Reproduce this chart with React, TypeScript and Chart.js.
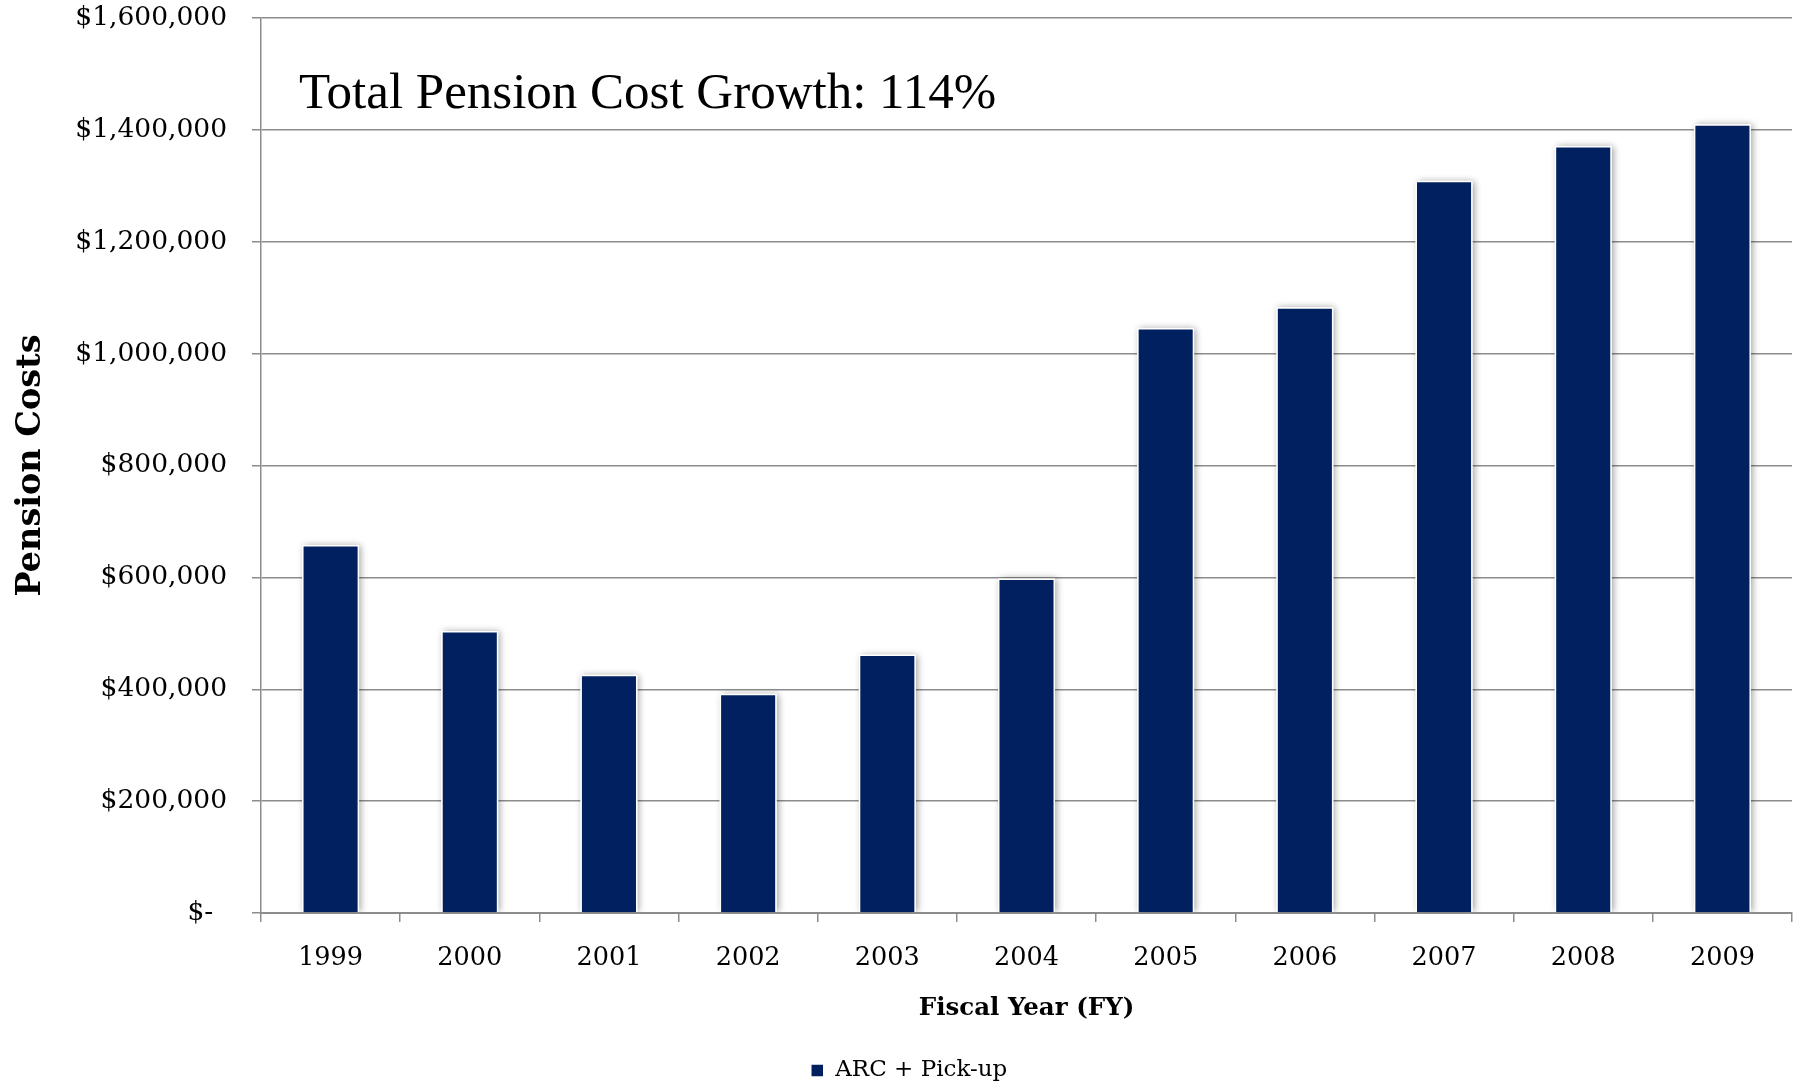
import React, { useEffect, useRef } from "react";
import { Chart, registerables } from "chart.js";

Chart.register(...registerables);

const categories = ["1999", "2000", "2001", "2002", "2003", "2004", "2005", "2006", "2007", "2008", "2009"];
const pensionCosts = [658000, 504000, 426000, 392000, 462000, 598000, 1046000, 1083000, 1309000, 1371000, 1410000];
const yTickMin = 0;
const yTickMax = 1600000;
const yTickStep = 200000;
const seriesLabel = "ARC + Pick-up";
const chartTitle = "Total Pension Cost Growth: 114%";
const xAxisTitle = "Fiscal Year (FY)";
const yAxisTitle = "Pension Costs";

const NAVY = "#002060";
const GRID = "#8c8c8c";
const SERIF = "'DejaVu Serif', serif";

const barShadow = {
  id: "barShadow",
  beforeDatasetsDraw(chart: any) {
    const ctx = chart.ctx;
    const area = chart.chartArea;
    const meta = chart.getDatasetMeta(0);
    ctx.save();
    ctx.beginPath();
    ctx.rect(area.left, area.top - 20, area.right - area.left, area.bottom - area.top + 19);
    ctx.clip();
    ctx.shadowColor = "rgba(0,0,0,0.38)";
    ctx.shadowBlur = 7;
    ctx.shadowOffsetX = 2;
    ctx.shadowOffsetY = 0;
    ctx.fillStyle = "#ffffff";
    meta.data.forEach((bar: any) => {
      const p = bar.getProps(["x", "y", "base", "width"], true);
      ctx.fillRect(p.x - p.width / 2, p.y, p.width, p.base - p.y);
    });
    ctx.restore();
  },
};

const innerTitle = {
  id: "innerTitle",
  afterDraw(chart: any) {
    const ctx = chart.ctx;
    ctx.save();
    ctx.font = "51px 'Liberation Serif', serif";
    ctx.fillStyle = "#000000";
    ctx.textAlign = "left";
    ctx.textBaseline = "alphabetic";
    ctx.fillText(chartTitle, 299, 108);
    ctx.restore();
  },
};

export default function App() {
  const canvasRef = useRef<HTMLCanvasElement | null>(null);

  useEffect(() => {
    if (!canvasRef.current) return;
    const chart = new Chart(canvasRef.current, {
      type: "bar",
      data: {
        labels: categories,
        datasets: [
          {
            label: seriesLabel,
            data: pensionCosts,
            backgroundColor: NAVY,
            borderColor: "#ffffff",
            borderWidth: 1.5,
            barPercentage: 0.41,
            categoryPercentage: 1.0,
          },
        ],
      },
      options: {
        responsive: false,
        animation: false,
        devicePixelRatio: 1,
        layout: { padding: { left: 26, right: 13, top: 18, bottom: -6 } },
        plugins: {
          title: { display: false },
          tooltip: { enabled: false },
          legend: {
            display: true,
            position: "bottom",
            labels: {
              boxWidth: 13,
              boxHeight: 13,
              padding: 0,
              color: "#000000",
              font: { family: SERIF, size: 23 },
            },
          },
        },
        scales: {
          x: {
            offset: true,
            afterFit: (s: any) => {
              s.height = 146;
            },
            grid: {
              display: true,
              drawOnChartArea: false,
              drawTicks: true,
              tickLength: 9,
              offset: true,
              color: GRID,
              lineWidth: 1.5,
            },
            border: { display: true, color: GRID, width: 2 },
            ticks: {
              color: "#000000",
              font: { family: SERIF, size: 25.5 },
              padding: 21,
              maxRotation: 0,
            },
            title: {
              display: true,
              text: xAxisTitle,
              color: "#000000",
              font: { family: SERIF, size: 24.5, weight: "bold" },
              padding: { top: 0, bottom: 36 },
            },
          },
          y: {
            min: yTickMin,
            max: yTickMax,
            afterFit: (s: any) => {
              s.width = 235;
              s.paddingTop = 0;
              s.paddingBottom = 0;
            },
            grid: {
              display: true,
              drawOnChartArea: true,
              drawTicks: true,
              tickLength: 9,
              color: GRID,
              lineWidth: 1.5,
            },
            border: { display: true, color: GRID, width: 1.5 },
            ticks: {
              stepSize: yTickStep,
              color: "#000000",
              font: { family: SERIF, size: 26.5 },
              padding: 25,
              callback: (v: any) => {
                const n = Number(v);
                if (n === 0) return "$- \u2009";
                return "$" + n.toLocaleString("en-US");
              },
            },
            title: {
              display: true,
              text: yAxisTitle,
              color: "#000000",
              font: { family: SERIF, size: 33.5, weight: "bold" },
              padding: { top: -14.5, bottom: 0 },
            },
          },
        },
      },
      plugins: [barShadow, innerTitle],
    });
    return () => chart.destroy();
  }, []);

  return (
    <div style={{ position: "fixed", left: 0, top: 0, width: 1805, height: 1086, background: "#ffffff" }}>
      <canvas ref={canvasRef} width={1805} height={1086} style={{ display: "block" }} />
    </div>
  );
}
